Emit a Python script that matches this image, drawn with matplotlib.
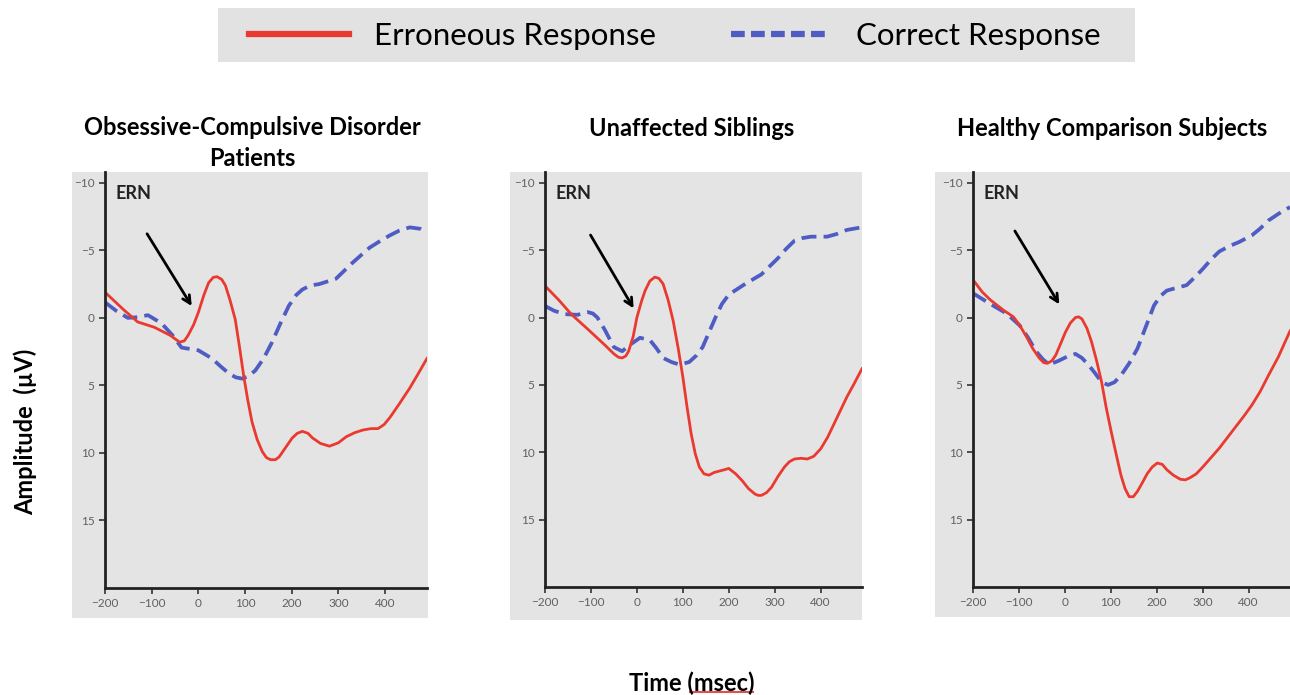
import matplotlib.pyplot as plt
from matplotlib.patches import Rectangle
from matplotlib.lines import Line2D

plt.rcParams['font.family'] = ['Lato', 'DejaVu Sans']

# --- data (time in ms, amplitude in µV) ---
t_err_ocd = [-200, -160, -130, -94, -60, -40, -30, -22, -10, 0, 12, 22, 32, 40, 50, 58, 68, 79,
             88, 97, 106, 115, 126, 137, 146, 155, 165, 173, 187, 201, 212, 223, 235, 245, 262,
             281, 300, 317, 335, 353, 370, 385, 398, 410, 430, 453, 470, 490]
v_err_ocd = [-1.9, -0.6, 0.3, 0.7, 1.3, 1.8, 1.7, 1.3, 0.5, -0.4, -1.7, -2.6, -3.0, -3.05, -2.85,
             -2.4, -1.3, 0.1, 2.1, 4.25, 6.1, 7.7, 9.0, 9.9, 10.35, 10.5, 10.5, 10.3, 9.6, 8.9,
             8.55, 8.4, 8.55, 8.9, 9.3, 9.5, 9.25, 8.8, 8.5, 8.3, 8.2, 8.2, 7.9, 7.4, 6.4, 5.2,
             4.2, 3.0]
t_cor_ocd = [-200, -175, -151, -130, -108, -79, -55, -36, 0, 29, 48, 65, 80, 94, 108, 122, 140,
             158, 176, 194, 210, 223, 240, 259, 295, 331, 367, 390, 410, 430, 453, 475, 490]
v_cor_ocd = [-1.15, -0.5, 0.0, -0.05, -0.2, 0.4, 1.3, 2.2, 2.4, 3.0, 3.6, 4.1, 4.4, 4.5, 4.3, 3.9,
             3.0, 1.8, 0.4, -0.9, -1.7, -2.1, -2.4, -2.5, -2.9, -4.1, -5.2, -5.7, -6.1, -6.45,
             -6.7, -6.6, -6.3]

t_err_sib = [-200, -170, -143, -107, -71, -50, -40, -32, -24, -18, -8, 0, 10, 18, 28, 39, 48, 57,
             68, 79, 90, 100, 109, 118, 127, 136, 146, 157, 168, 179, 190, 200, 215, 229, 243,
             257, 264, 271, 282, 293, 307, 321, 332, 343, 357, 371, 385, 400, 415, 429, 443, 457,
             473, 490]
v_err_sib = [-2.35, -1.3, -0.25, 0.86, 2.0, 2.7, 2.95, 3.0, 2.85, 2.5, 1.4, 0.0, -1.2, -2.0,
             -2.7, -3.0, -2.9, -2.5, -1.3, 0.25, 2.3, 4.4, 6.6, 8.6, 10.1, 11.1, 11.6, 11.7,
             11.5, 11.4, 11.3, 11.2, 11.6, 12.1, 12.7, 13.1, 13.2, 13.2, 13.0, 12.6, 11.8,
             11.1, 10.7, 10.5, 10.45, 10.5, 10.3, 9.75, 8.9, 7.9, 6.9, 5.9, 4.9, 3.8]
t_cor_sib = [-200, -180, -157, -129, -115, -107, -96, -86, -70, -50, -32, -14, 7, 29, 43, 57, 75,
             93, 114, 130, 143, 157, 171, 185, 200, 218, 236, 271, 307, 325, 343, 361, 379, 414,
             435, 457, 490]
v_cor_sib = [-0.86, -0.5, -0.25, -0.2, -0.35, -0.4, -0.3, 0.0, 0.9, 2.2, 2.5, 2.0, 1.5, 1.7, 2.3,
             3.0, 3.3, 3.5, 3.3, 2.8, 2.2, 1.1, 0.0, -1.0, -1.7, -2.1, -2.5, -3.2, -4.4, -5.1,
             -5.7, -5.9, -6.0, -6.0, -6.2, -6.5, -6.7]

t_err_hc = [-200, -180, -162, -134, -112, -98, -84, -70, -56, -46, -38, -28, -20, -10, 1, 12, 23,
            30, 37, 48, 58, 69, 80, 90, 101, 112, 122, 131, 140, 149, 158, 168, 179, 190, 201,
            212, 222, 236, 251, 262, 272, 286, 300, 318, 336, 354, 372, 390, 407, 425, 443, 465,
            490]
v_err_hc = [-2.8, -1.9, -1.3, -0.55, -0.05, 0.6, 1.4, 2.3, 3.0, 3.35, 3.4, 3.2, 2.8, 2.0, 1.1,
            0.4, 0.0, -0.05, 0.1, 0.8, 1.8, 3.2, 4.8, 6.7, 8.5, 10.2, 11.7, 12.7, 13.3, 13.3,
            12.9, 12.3, 11.6, 11.1, 10.8, 10.9, 11.3, 11.7, 12.0, 12.05, 11.9, 11.6, 11.1,
            10.4, 9.7, 8.9, 8.1, 7.3, 6.5, 5.5, 4.3, 2.9, 1.0]
t_cor_hc = [-200, -162, -127, -98, -80, -63, -48, -34, -13, 5, 23, 37, 51, 65, 80, 94, 108, 122,
            140, 158, 176, 194, 208, 222, 243, 265, 283, 300, 318, 336, 358, 379, 407, 425, 443,
            465, 490]
v_cor_hc = [-1.8, -1.0, -0.3, 0.6, 1.5, 2.5, 3.1, 3.5, 3.2, 2.9, 2.7, 3.0, 3.5, 4.1, 4.8, 5.0,
            4.8, 4.3, 3.4, 2.3, 0.7, -0.9, -1.6, -2.0, -2.2, -2.4, -3.0, -3.6, -4.3, -4.9,
            -5.3, -5.6, -6.1, -6.6, -7.2, -7.7, -8.2]

titles = ["Obsessive-Compulsive Disorder\nPatients", "Unaffected Siblings",
          "Healthy Comparison Subjects"]
series = [(t_err_ocd, v_err_ocd, t_cor_ocd, v_cor_ocd),
          (t_err_sib, v_err_sib, t_cor_sib, v_cor_sib),
          (t_err_hc, v_err_hc, t_cor_hc, v_cor_hc)]
# arrow (start, tip) in data coords
arrows = [((-113, -6.4), (-11, -0.7)), ((-104, -6.3), (-4, -0.5)), ((-112, -6.6), (-9, -0.8))]

x_ticks = [-200, -100, 0, 100, 200, 300, 400]
y_ticks = [-10, -5, 0, 5, 10, 15]

red = '#ea3a30'
blue = '#4e5cc4'
panel_gray = '#e4e4e4'

W, H = 1290, 695
fig = plt.figure(figsize=(W / 100, H / 100), dpi=100)


def fx(px):
    return px / W


def fy(py):
    return 1 - py / H


# gray panels behind each plot
for x0, x1, y1 in [(72, 428, 618), (510, 862, 620), (935, 1290, 617)]:
    fig.patches.append(Rectangle((fx(x0), fy(y1)), fx(x1 - x0), (y1 - 172) / H,
                                 transform=fig.transFigure, facecolor=panel_gray,
                                 edgecolor='none', zorder=-5))

# legend band
fig.patches.append(Rectangle((fx(218), fy(62)), fx(1135 - 218), 54 / H,
                             transform=fig.transFigure, facecolor='#e2e2e2',
                             edgecolor='none', zorder=-5))

axes_px = [(105, 427, 588), (545, 862, 587), (973, 1290, 587)]
title_x = [252, 692, 1112]

for i, (ax_px, ttl, s, arr) in enumerate(zip(axes_px, titles, series, arrows)):
    left, right, bottom = ax_px
    ax = fig.add_axes([fx(left), fy(bottom), fx(right - left), (bottom - 172) / H])
    ax.patch.set_alpha(0)
    te, ve, tc, vc = s
    ax.plot(tc, vc, color=blue, lw=2.7, ls=(0, (4.0, 1.9)), solid_capstyle='butt')
    ax.plot(te, ve, color=red, lw=2.0, solid_joinstyle='round')
    ax.set_xlim(-200, 490)
    ax.set_ylim(20, -10.8)
    ax.set_xticks(x_ticks)
    ax.set_yticks(y_ticks)
    ax.tick_params(labelsize=8.5, labelcolor='#606060', length=4, width=1.2, color='#333333',
                   direction='out')
    for sp in ['top', 'right']:
        ax.spines[sp].set_visible(False)
    for sp in ['left', 'bottom']:
        ax.spines[sp].set_linewidth(2)
        ax.spines[sp].set_color('#222222')
    ax.text(-178, -9.2, 'ERN', fontsize=13, fontweight='bold', ha='left', va='center',
            color='#222222')
    ax.annotate('', xy=arr[1], xytext=arr[0],
                arrowprops=dict(arrowstyle='->', color='black', lw=2, mutation_scale=14))
    if i == 0:
        fig.text(fx(title_x[i]), fy(116), ttl, ha='center', va='top', fontsize=17,
                 fontweight='bold', linespacing=1.4)
    else:
        fig.text(fx(title_x[i]), fy(128), ttl, ha='center', va='center', fontsize=17,
                 fontweight='bold')

handles = [Line2D([], [], color=red, lw=4.5),
           Line2D([], [], color=blue, lw=4.5, ls=(0, (2.2, 1.0)))]
fig.legend(handles, ['Erroneous Response', 'Correct Response'], loc='center',
           bbox_to_anchor=(fx(675), fy(36)), ncol=2, frameon=False, fontsize=22.5,
           handlelength=3.2, handletextpad=0.8, columnspacing=2.4)

fig.text(fx(25), fy(432), 'Amplitude  (µV)', rotation=90, ha='center', va='center',
         fontsize=17, fontweight='bold')
fig.text(fx(692), fy(683), 'Time (msec)', ha='center', va='center', fontsize=17,
         fontweight='bold')
# spell-check squiggle under "msec"
fig.add_artist(Line2D([fx(690), fx(753)], [fy(692), fy(692)], color='#e05050', lw=1.5))

fig.savefig('out.png', dpi=100)
